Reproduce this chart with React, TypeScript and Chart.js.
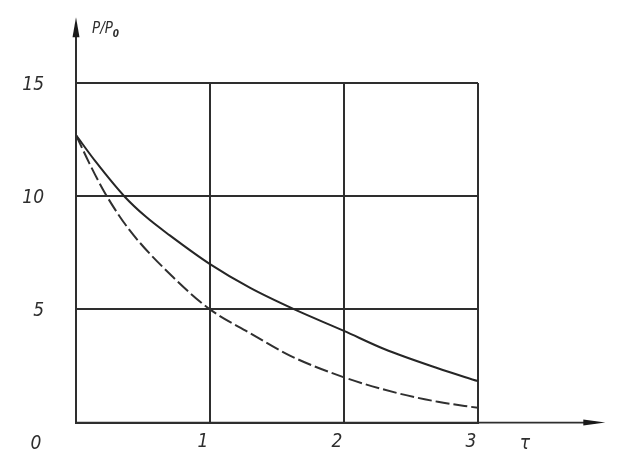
import React, { useEffect, useRef } from "react";
import { Chart, registerables } from "chart.js";

Chart.register(...registerables);

// Solid curve
const tauSolid = [0, 0.15, 0.36, 0.52, 0.7, 1.0, 1.3, 1.63, 2.0, 2.3, 2.7, 3.0];
const ratioSolid = [12.7, 11.5, 10.0, 9.1, 8.27, 7.0, 5.95, 5.0, 4.05, 3.25, 2.4, 1.83];

// Dashed curve
const tauDashed = [0, 0.1, 0.22, 0.4, 0.72, 1.0, 1.3, 1.6, 2.0, 2.4, 2.7, 3.0];
const ratioDashed = [12.7, 11.45, 10.1, 8.5, 6.45, 5.0, 3.95, 2.95, 2.0, 1.3, 0.92, 0.65];

const xTicks = [0, 1, 2, 3];
const yTicks = [0, 5, 10, 15];
const xArrowEnd = 3.95;
const yArrowEnd = 17.9;
const yAxisTitle = "P/P";
const yAxisTitleSub = "0";
const xAxisTitle = "τ";
const originLabel = "0";

const FONT_FAMILY = '"Liberation Sans Narrow", "DejaVu Sans Condensed", "Liberation Sans", sans-serif';
const INK = "#2e2e2e";

const axesPlugin = {
  id: "axesArrows",
  afterDraw(chart: any) {
    const ctx = chart.ctx;
    const xs = chart.scales.x;
    const ys = chart.scales.y;
    const x0 = xs.getPixelForValue(0);
    const y0 = ys.getPixelForValue(0);
    const xTip = xs.getPixelForValue(xArrowEnd);
    const yTip = ys.getPixelForValue(yArrowEnd);
    ctx.save();
    ctx.strokeStyle = INK;
    ctx.fillStyle = "#1a1a1a";
    ctx.lineWidth = 2;
    // y axis extension
    ctx.beginPath();
    ctx.moveTo(x0, y0);
    ctx.lineTo(x0, yTip + 10);
    ctx.stroke();
    // y arrow head
    ctx.beginPath();
    ctx.moveTo(x0, yTip);
    ctx.lineTo(x0 - 3.5, yTip + 20);
    ctx.lineTo(x0 + 3.5, yTip + 20);
    ctx.closePath();
    ctx.fill();
    // x axis extension
    ctx.lineWidth = 1.8;
    ctx.beginPath();
    ctx.moveTo(x0, y0);
    ctx.lineTo(xTip - 10, y0);
    ctx.stroke();
    // x arrow head
    ctx.beginPath();
    ctx.moveTo(xTip, y0);
    ctx.lineTo(xTip - 22, y0 - 3);
    ctx.lineTo(xTip - 22, y0 + 3);
    ctx.closePath();
    ctx.fill();

    // labels
    ctx.fillStyle = INK;
    ctx.font = `italic 19px ${FONT_FAMILY}`;
    ctx.textBaseline = "alphabetic";
    ctx.textAlign = "center";
    ctx.fillText(originLabel, x0 - 40, y0 + 26);
    ctx.fillText(xAxisTitle, xs.getPixelForValue(3.35), y0 + 26);
    ctx.textAlign = "left";
    ctx.font = `italic 15px ${FONT_FAMILY}`;
    const tx = x0 + 16;
    const ty = yTip + 16;
    ctx.fillText(yAxisTitle, tx, ty);
    const w = ctx.measureText(yAxisTitle).width;
    ctx.font = `italic bold 10px ${FONT_FAMILY}`;
    ctx.fillText(yAxisTitleSub, tx + w, ty + 4);
    ctx.restore();
  },
};

export default function App() {
  const ref = useRef<HTMLCanvasElement | null>(null);
  useEffect(() => {
    if (!ref.current) return;
    const chart = new Chart(ref.current, {
      type: "scatter",
      data: {
        datasets: [
          {
            label: "solid",
            data: tauSolid.map((t, i) => ({ x: t, y: ratioSolid[i] })),
            showLine: true,
            borderColor: "#262626",
            borderWidth: 2,
            pointRadius: 0,
            cubicInterpolationMode: "monotone",
          },
          {
            label: "dashed",
            data: tauDashed.map((t, i) => ({ x: t, y: ratioDashed[i] })),
            showLine: true,
            borderColor: "#303030",
            borderWidth: 2,
            borderDash: [14, 4],
            pointRadius: 0,
            cubicInterpolationMode: "monotone",
          },
        ],
      },
      options: {
        responsive: false,
        animation: false,
        layout: { padding: { top: 83, right: 156, left: 0, bottom: 0 } },
        plugins: { legend: { display: false }, tooltip: { enabled: false } },
        scales: {
          x: {
            type: "linear",
            min: xTicks[0],
            max: xTicks[xTicks.length - 1],
            afterFit: (s: any) => {
              s.height = 40;
            },
            afterBuildTicks: (s: any) => {
              s.ticks = xTicks.map((v) => ({ value: v }));
            },
            grid: { color: INK, lineWidth: 2, drawTicks: false },
            border: { color: INK, width: 2 },
            ticks: {
              padding: 8,
              labelOffset: -7,
              color: INK,
              font: { family: FONT_FAMILY, size: 19, style: "italic" },
              callback: (v: any) => (v === 0 ? "" : String(v)),
            },
          },
          y: {
            type: "linear",
            min: yTicks[0],
            max: yTicks[yTicks.length - 1],
            afterFit: (s: any) => {
              s.width = 76;
            },
            afterBuildTicks: (s: any) => {
              s.ticks = yTicks.map((v) => ({ value: v }));
            },
            grid: { color: INK, lineWidth: 2, drawTicks: false },
            border: { color: INK, width: 2 },
            ticks: {
              padding: 32,
              labelOffset: 2,
              color: INK,
              font: { family: FONT_FAMILY, size: 19, style: "italic" },
              callback: (v: any) => (v === 0 ? "" : String(v)),
            },
          },
        },
      },
      plugins: [axesPlugin],
    });
    return () => chart.destroy();
  }, []);
  return (
    <div style={{ position: "fixed", left: 0, top: 0, width: 634, height: 466, background: "#fff" }}>
      <canvas ref={ref} width={634} height={466} />
    </div>
  );
}
